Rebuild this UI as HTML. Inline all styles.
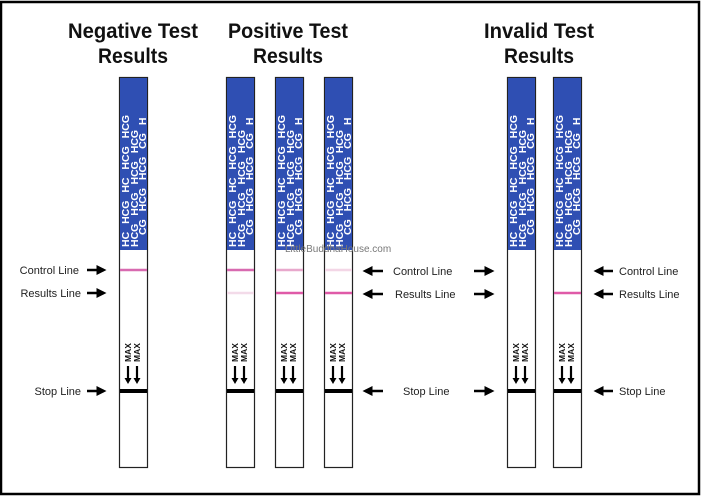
<!DOCTYPE html>
<html><head><meta charset="utf-8"><style>
html,body{margin:0;padding:0;background:#fff;}
svg{display:block;}
text{font-family:"Liberation Sans",sans-serif;}
</style></head><body>
<svg width="701" height="496" viewBox="0 0 701 496" xmlns="http://www.w3.org/2000/svg">
<defs>
<marker id="ah" markerWidth="4" markerHeight="4" refX="3" refY="2" orient="auto" markerUnits="strokeWidth">
<path d="M0,0 L4,2 L0,4 z" fill="#000"/>
</marker>
<g id="strip">
  <rect x="0.5" y="0.5" width="28" height="390" fill="#fff" stroke="#222" stroke-width="1.2"/>
  <rect x="1" y="1" width="27" height="172" fill="#2f4fb3"/>
  <g fill="#fff" font-weight="bold" font-size="10.5" word-spacing="5">
    <text transform="translate(10,170) rotate(-90)">HC HCG HC HCG HCG</text>
    <text transform="translate(19,170) rotate(-90)">HCG HCG HCG HCG</text>
    <text transform="translate(27,158) rotate(-90)">CG HCG HCG CG H</text>
  </g>
  <g font-size="8.5" font-weight="bold" fill="#111">
    <text transform="translate(12,285) rotate(-90)">MAX</text>
    <text transform="translate(21,285) rotate(-90)">MAX</text>
  </g>
  <g stroke="#000" stroke-width="2.2">
    <line x1="9" y1="289" x2="9" y2="302"/>
    <line x1="18" y1="289" x2="18" y2="302"/>
  </g>
  <path d="M5.5,301 L12.5,301 L9,307 z M14.5,301 L21.5,301 L18,307 z" fill="#000"/>
  <rect x="1" y="312" width="27" height="4" fill="#000"/>
</g>
</defs>
<rect x="1" y="2" width="698" height="492" fill="#fff" stroke="#000" stroke-width="2.5"/>

<g font-weight="bold" font-size="21" fill="#111" text-anchor="middle">
<text x="133" y="38" textLength="130" lengthAdjust="spacingAndGlyphs">Negative Test</text>
<text x="133" y="63" textLength="70" lengthAdjust="spacingAndGlyphs">Results</text>
<text x="288" y="38" textLength="120" lengthAdjust="spacingAndGlyphs">Positive Test</text>
<text x="288" y="63" textLength="70" lengthAdjust="spacingAndGlyphs">Results</text>
<text x="539" y="38" textLength="110" lengthAdjust="spacingAndGlyphs">Invalid Test</text>
<text x="539" y="63" textLength="70" lengthAdjust="spacingAndGlyphs">Results</text>
</g>

<use href="#strip" x="119" y="77"/>
<use href="#strip" x="226" y="77"/>
<use href="#strip" x="275" y="77"/>
<use href="#strip" x="324" y="77"/>
<use href="#strip" x="507" y="77"/>
<use href="#strip" x="553" y="77"/>

<g stroke-width="2.5">
<line x1="120" y1="270" x2="147" y2="270" stroke="#d86ab0"/>
<line x1="227" y1="270" x2="254" y2="270" stroke="#d86ab0"/>
<line x1="227" y1="293" x2="254" y2="293" stroke="#f3dbe9"/>
<line x1="276" y1="270" x2="303" y2="270" stroke="#e8a8cc"/>
<line x1="276" y1="293" x2="303" y2="293" stroke="#df5aa8"/>
<line x1="325" y1="270" x2="352" y2="270" stroke="#f3d6e6"/>
<line x1="325" y1="293" x2="352" y2="293" stroke="#df5aa8"/>
<line x1="554" y1="293" x2="581" y2="293" stroke="#df5aa8"/>
</g>

<g font-size="11" fill="#222">
<text x="79" y="274" text-anchor="end">Control Line</text>
<text x="81" y="297" text-anchor="end">Results Line</text>
<text x="81" y="395" text-anchor="end">Stop Line</text>
<text x="393" y="275">Control Line</text>
<text x="395" y="298">Results Line</text>
<text x="403" y="395">Stop Line</text>
<text x="619" y="275">Control Line</text>
<text x="619" y="298">Results Line</text>
<text x="619" y="395">Stop Line</text>
</g>
<g stroke="#000" stroke-width="2.5" marker-end="url(#ah)">
<line x1="87" y1="270" x2="104" y2="270"/>
<line x1="87" y1="293" x2="104" y2="293"/>
<line x1="87" y1="391" x2="104" y2="391"/>
<line x1="383" y1="271" x2="365" y2="271"/>
<line x1="383" y1="294" x2="365" y2="294"/>
<line x1="383" y1="391" x2="365" y2="391"/>
<line x1="474" y1="271" x2="492" y2="271"/>
<line x1="474" y1="294" x2="492" y2="294"/>
<line x1="474" y1="391" x2="492" y2="391"/>
<line x1="613" y1="271" x2="596" y2="271"/>
<line x1="613" y1="294" x2="596" y2="294"/>
<line x1="613" y1="391" x2="596" y2="391"/>
</g>
<text x="285" y="252" font-size="10" fill="#777">LittleBuddhaHouse.com</text>
</svg>
</body></html>
